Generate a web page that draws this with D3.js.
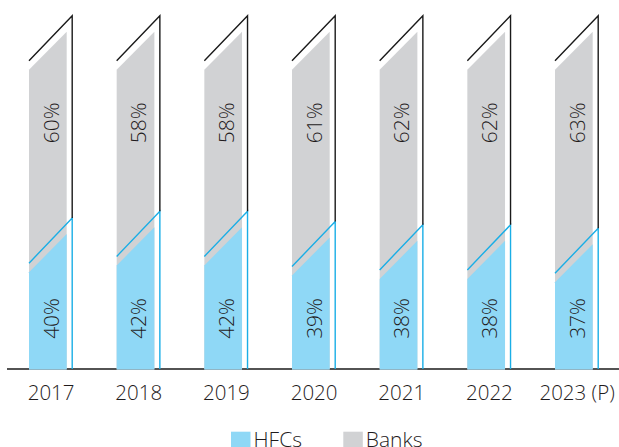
<!DOCTYPE html>
<html>
<head>
<meta charset="utf-8">
<script src="https://cdn.jsdelivr.net/npm/d3@7"></script>
<style>
  html, body { margin: 0; padding: 0; background: #fff; }
  svg { display: block; font-family: "Open Sans", sans-serif; font-weight: 350; }
</style>
</head>
<body>
<svg id="chart" width="619" height="447"></svg>
<script>
const years = ["2017", "2018", "2019", "2020", "2021", "2022", "2023 (P)"];
const hfcs  = [40, 42, 42, 39, 38, 38, 37];
const banks = [60, 58, 58, 61, 62, 62, 63];
const seriesNames = ["HFCs", "Banks"];
const colors = { HFCs: "#8fd8f6", Banks: "#d1d2d4", hfcLine: "#1aaee6", banksLine: "#1a1a1a", text: "#1f1b1c" };

const svg = d3.select("#chart");

const x = d3.scaleBand().domain(years).range([29, 592.7]).paddingInner(0.57).paddingOuter(0);
const y = d3.scaleLinear().domain([0, 100]).range([369, 31.7]);
const bw = x.bandwidth();
const drop = bw * 1.01;      // slant of the bar top
const gap = 5.5;             // distance of outline from bar right edge
const lineUpLeft = 9, lineUpRight = 16;

const data = years.map((yr, i) => ({ year: yr, hfc: hfcs[i], banks: banks[i], total: hfcs[i] + banks[i] }));

// baseline
svg.append("line")
  .attr("x1", 7).attr("x2", 619)
  .attr("y1", y(0)).attr("y2", y(0))
  .attr("stroke", "#1a1a1a").attr("stroke-width", 1.5);

function slantPoly(x0, v) {
  const yr = y(v);
  return [[x0, y(0) + 0.5], [x0, yr + drop], [x0 + bw, yr], [x0 + bw, y(0) + 0.5]];
}

const g = svg.append("g");
data.forEach(d => {
  const x0 = x(d.year);
  const xl = x0 + bw + gap;
  g.append("path").attr("d", d3.line()(slantPoly(x0, d.total)) + "Z").attr("fill", colors.Banks);
  g.append("path").attr("d", d3.line()(slantPoly(x0, d.hfc)) + "Z").attr("fill", colors.HFCs);

  const yh = y(d.hfc);
  g.append("path")
    .attr("d", d3.line()([[x0, yh + drop - lineUpLeft], [xl, yh - lineUpRight], [xl, y(0)]]))
    .attr("fill", "none").attr("stroke", colors.hfcLine).attr("stroke-width", 1.4);
  const yt = y(d.total);
  g.append("path")
    .attr("d", d3.line()([[x0, yt + drop - lineUpLeft], [xl, yt - lineUpRight], [xl, yh - lineUpRight]]))
    .attr("fill", "none").attr("stroke", colors.banksLine).attr("stroke-width", 1.4);

  const cx = x0 + (bw + gap) / 2 + 0.5;
  [[d.hfc, y(15)], [d.banks, y(73)]].forEach(([v, cy]) => {
    g.append("text")
      .attr("transform", `translate(${cx},${cy}) rotate(-90)`)
      .attr("text-anchor", "middle")
      .attr("dy", "0.36em")
      .attr("font-size", 21)
      .attr("fill", colors.text)
      .text(v + "%");
  });

  g.append("text")
    .attr("x", cx).attr("y", 400)
    .attr("text-anchor", "middle")
    .attr("font-size", 20.5)
    .attr("fill", colors.text)
    .text(d.year);
});

// legend
const legendX = [231, 343.3];
seriesNames.forEach((name, i) => {
  const lg = svg.append("g").attr("transform", `translate(${legendX[i]},0)`);
  lg.append("rect").attr("x", 0).attr("y", 431.7).attr("width", 19.5).attr("height", 19).attr("fill", colors[name]);
  lg.append("text").attr("x", 22.5).attr("y", 447).attr("font-size", 21).attr("fill", colors.text).text(name);
});
</script>
</body>
</html>
